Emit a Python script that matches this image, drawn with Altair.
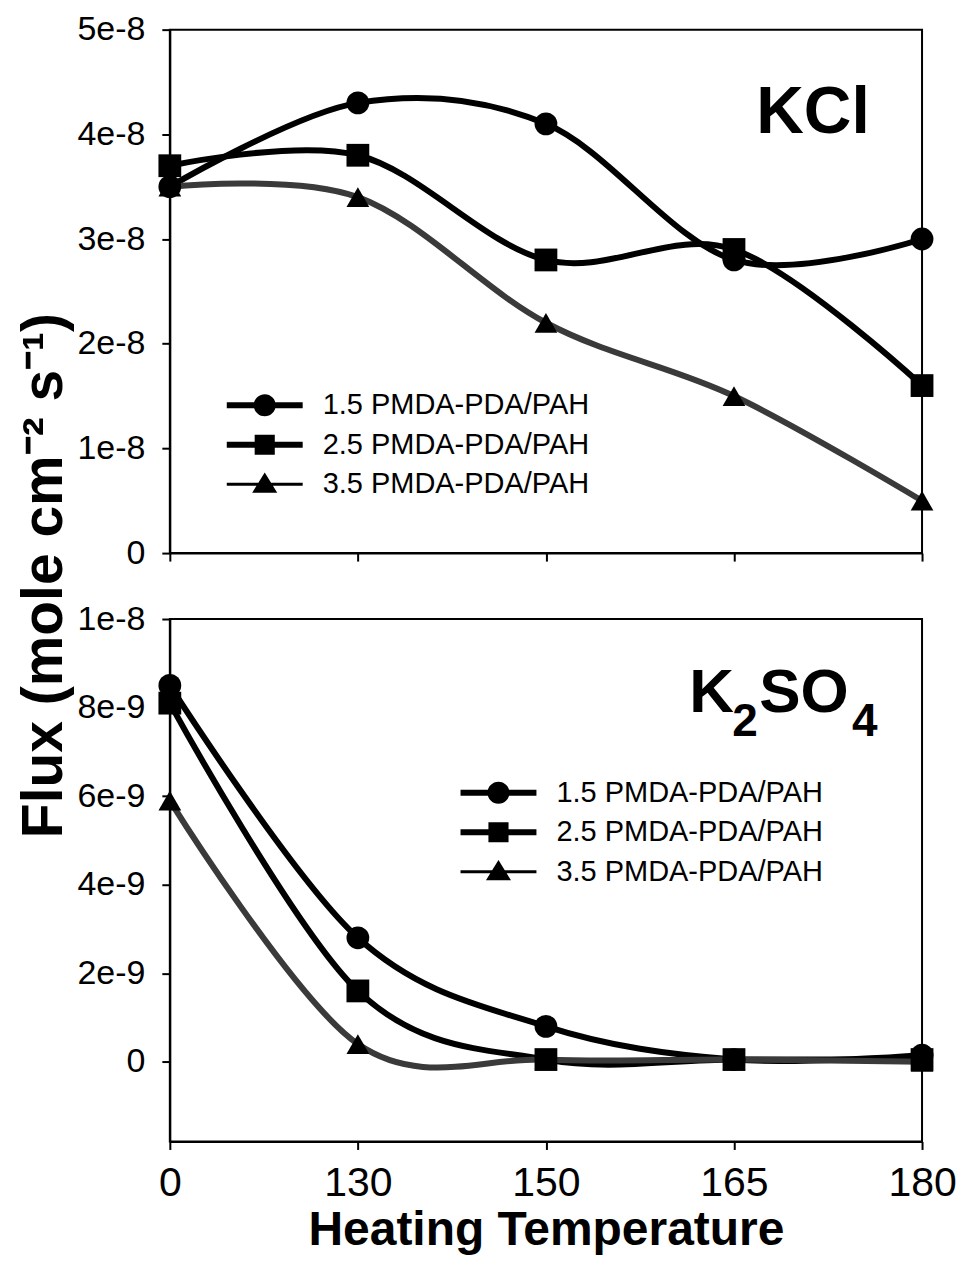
import altair as alt
import pandas as pd

# ---------------- data ----------------
temps = ["0", "130", "150", "165", "180"]
series = ["1.5 PMDA-PDA/PAH", "2.5 PMDA-PDA/PAH", "3.5 PMDA-PDA/PAH"]

kcl_15 = [3.5e-8, 4.3e-8, 4.1e-8, 2.8e-8, 3.0e-8]
kcl_25 = [3.7e-8, 3.8e-8, 2.8e-8, 2.9e-8, 1.6e-8]
kcl_35 = [3.5e-8, 3.4e-8, 2.2e-8, 1.5e-8, 0.5e-8]

k2so4_15 = [8.5e-9, 2.8e-9, 0.8e-9, 0.05e-9, 0.15e-9]
k2so4_25 = [8.1e-9, 1.6e-9, 0.05e-9, 0.05e-9, 0.05e-9]
k2so4_35 = [5.9e-9, 0.4e-9, 0.05e-9, 0.05e-9, 0.0]

kcl_ticks = [0, 1e-8, 2e-8, 3e-8, 4e-8, 5e-8]
k2so4_ticks = [0, 2e-9, 4e-9, 6e-9, 8e-9, 1e-8]

x_title = "Heating Temperature"
y_title = "Flux (mole cm\u207b\u00b2 s\u207b\u00b9)"
kcl_label = ["KCl"]
k2so4_parts = ["K", "2", "SO", "4"]

# ---------------- styles ----------------
FONT = "Liberation Sans"
line_colors = ["black", "black", "#3a3a3a"]
line_widths = [6, 6, 3.5]
point_shapes = ["circle", "square", "triangle-up"]
legend_paths = [
    "M-2,-0.16H2V0.16H-2Z M0.58,0A0.58,0.58 0 1,1 -0.58,0A0.58,0.58 0 1,1 0.58,0Z",
    "M-2,-0.16H2V0.16H-2Z M-0.53,-0.53H0.53V0.53H-0.53Z",
    "M-2,-0.08H2V0.08H-2Z M0,-0.62L0.66,0.45H-0.66Z",
]
W = 753


def long_df(a, b, c):
    rows = []
    for s, vals in zip(series, [a, b, c]):
        for t, v in zip(temps, vals):
            rows.append({"temp": t, "flux": v, "series": s})
    return pd.DataFrame(rows)


def panel(df, domain, ticks, height, bottom, leg_x, leg_y, texts, y_axis_title):
    x = alt.X(
        "temp:O",
        sort=temps,
        scale=alt.Scale(type="point", padding=0),
        axis=alt.Axis(
            labels=bottom,
            title=x_title if bottom else None,
            labelAngle=0,
            labelFontSize=41,
            labelPadding=14,
            titleFontSize=48,
            titleFontWeight="bold",
            titlePadding=3,
        ),
    )
    yaxis_kw = dict(
        values=ticks,
        labelExpr="datum.value == 0 ? '0' : format(datum.value, '.0e')",
        labelFontSize=34,
        labelPadding=17,
    )
    if y_axis_title:
        yaxis_kw.update(
            title=y_title,
            titleFontSize=57,
            titleFontWeight="bold",
            titleAngle=270,
            titleAlign="center",
            titleBaseline="alphabetic",
            titleX=-108,
            titleY=546,
        )
    else:
        yaxis_kw.update(title=None)
    y = alt.Y(
        "flux:Q",
        scale=alt.Scale(domain=domain, nice=False, zero=False),
        axis=alt.Axis(**yaxis_kw),
    )
    base = alt.Chart(df)
    lines = base.mark_line(interpolate="cardinal", tension=0).encode(
        x=x,
        y=y,
        color=alt.Color("series:N", scale=alt.Scale(domain=series, range=line_colors), legend=None),
        strokeWidth=alt.StrokeWidth(
            "series:N", scale=alt.Scale(domain=series, range=line_widths), legend=None
        ),
    )
    points = base.mark_point(filled=True, size=520, opacity=1, color="black").encode(
        x=x,
        y=y,
        shape=alt.Shape(
            "series:N", scale=alt.Scale(domain=series, range=point_shapes), legend=None
        ),
    )
    leg = (
        base.transform_filter("false")
        .mark_point(filled=True, size=1444, opacity=1, color="black")
        .encode(
            x=x,
            y=y,
            shape=alt.Shape(
                "series:N",
                scale=alt.Scale(domain=series, range=legend_paths),
                legend=alt.Legend(
                    title=None,
                    orient="none",
                    legendX=leg_x,
                    legendY=leg_y,
                    labelFont=FONT,
                    labelFontSize=29,
                    labelColor="black",
                    labelLimit=600,
                    symbolSize=1444,
                    symbolStrokeWidth=0,
                    symbolFillColor="black",
                    rowPadding=5.5,
                    labelOffset=39,
                    padding=0,
                ),
            ),
        )
    )
    layers = [lines, points, leg]
    for txt, px, py, fs in texts:
        layers.append(
            alt.Chart(pd.DataFrame({"t": [txt]}))
            .mark_text(font=FONT, fontWeight="bold", fontSize=fs, align="left", baseline="alphabetic", color="black")
            .encode(text="t:N", x=alt.value(px), y=alt.value(py))
        )
    return (
        alt.layer(*layers)
        .resolve_scale(shape="independent")
        .properties(width=W, height=height)
    )


top = panel(
    long_df(kcl_15, kcl_25, kcl_35),
    [0, 5e-8],
    kcl_ticks,
    524,
    False,
    76,
    357,
    [(kcl_label[0], 587, 103, 66)],
    True,
)
bottom = panel(
    long_df(k2so4_15, k2so4_25, k2so4_35),
    [-1.8e-9, 1e-8],
    k2so4_ticks,
    523,
    True,
    310,
    155,
    [
        (k2so4_parts[0], 520, 93, 62),
        (k2so4_parts[1], 563, 117, 46),
        (k2so4_parts[2], 590, 93, 62),
        (k2so4_parts[3], 683, 117, 46),
    ],
    False,
)

chart = (
    alt.vconcat(top, bottom, spacing=66, bounds="flush")
    .configure_view(stroke="black", strokeWidth=2)
    .configure_axis(
        labelFont=FONT,
        titleFont=FONT,
        labelColor="black",
        titleColor="black",
        domainColor="black",
        domainWidth=2,
        tickColor="black",
        tickWidth=2,
        tickSize=8,
        grid=False,
    )
    .properties(background="white", padding={"left": 6, "top": 3, "right": 0, "bottom": 0})
)

chart.save("out.html", embed_options={"renderer": "svg", "actions": False})
